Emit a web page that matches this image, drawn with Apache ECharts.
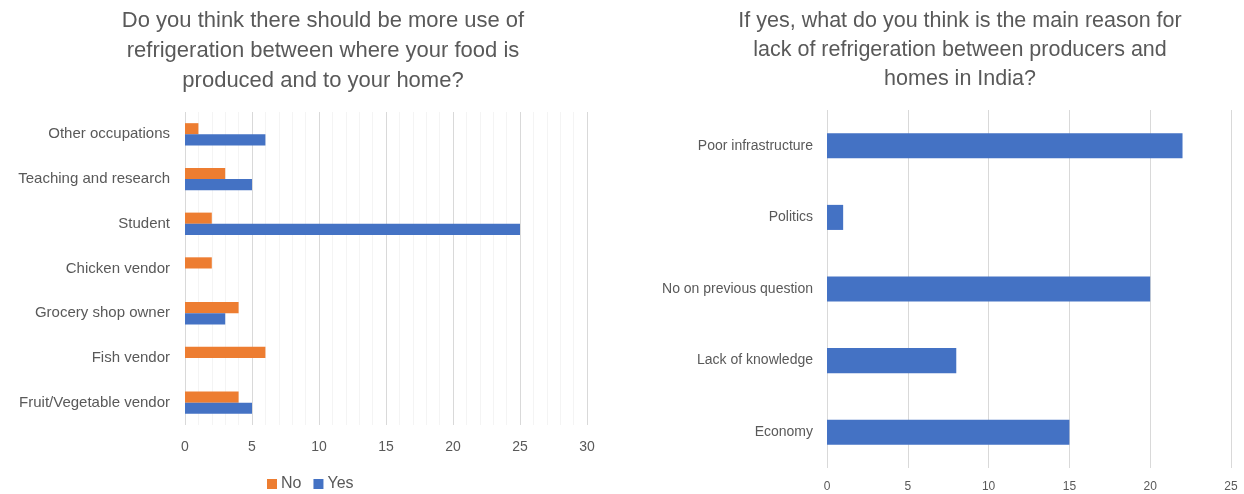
<!DOCTYPE html>
<html>
<head>
<meta charset="utf-8">
<script src="https://cdn.jsdelivr.net/npm/echarts@6/dist/echarts.min.js"></script>
<style>
  html, body { margin: 0; padding: 0; background: #fff; }
  #chart { width: 1244px; height: 494px; }
</style>
</head>
<body>
<div id="chart"></div>
<script>
// Survey answers by occupation (bottom to top)
const occupations = ['Fruit/Vegetable vendor', 'Fish vendor', 'Grocery shop owner', 'Chicken vendor', 'Student', 'Teaching and research', 'Other occupations'];
const noCounts = [4, 6, 4, 2, 2, 3, 1];
const yesCounts = [5, 0, 3, 0, 25, 5, 6];

// Reasons given for lack of refrigeration (bottom to top)
const reasons = ['Economy', 'Lack of knowledge', 'No on previous question', 'Politics', 'Poor infrastructure'];
const reasonCounts = [15, 8, 20, 1, 22];

const TEXT = '#595959';
const FONT = 'Liberation Sans';

const chart = echarts.init(document.getElementById('chart'), null, { renderer: 'canvas' });

chart.setOption({
  animation: false,
  textStyle: { fontFamily: FONT },
  title: [
    {
      text: 'Do you think there should be more use of\nrefrigeration between where your food is\nproduced and to your home?',
      left: 318, top: 1, textAlign: 'center',
      textStyle: { fontSize: 22, fontWeight: 'normal', color: TEXT, lineHeight: 30, fontFamily: FONT }
    },
    {
      text: 'If yes, what do you think is the main reason for\nlack of refrigeration between producers and\nhomes in India?',
      left: 955, top: 2, textAlign: 'center',
      textStyle: { fontSize: 21.5, fontWeight: 'normal', color: TEXT, lineHeight: 29, fontFamily: FONT }
    }
  ],
  legend: {
    data: ['No', 'Yes'],
    left: 262, bottom: -3,
    itemWidth: 10, itemHeight: 10, itemGap: 12,
    icon: 'rect',
    textStyle: { fontSize: 16, color: TEXT, fontFamily: FONT, padding: [0, 0, 0, -1] }
  },
  grid: [
    { left: 185, right: 657, top: 112, bottom: 69 },
    { left: 827, right: 13, top: 110, bottom: 26 }
  ],
  xAxis: [
    {
      gridIndex: 0, type: 'value', min: 0, max: 30, interval: 5,
      axisLine: { show: false }, axisTick: { show: false },
      axisLabel: { color: TEXT, fontSize: 14, margin: 15 },
      splitLine: { lineStyle: { color: '#D9D9D9', width: 1 } },
      minorTick: { show: false, splitNumber: 5 },
      minorSplitLine: { show: true, lineStyle: { color: '#F4F4F4', width: 1 } }
    },
    {
      gridIndex: 1, type: 'value', min: 0, max: 25, interval: 5,
      axisLine: { show: false }, axisTick: { show: false },
      axisLabel: { color: TEXT, fontSize: 12, margin: 13 },
      splitLine: { lineStyle: { color: '#D9D9D9', width: 1 } }
    }
  ],
  yAxis: [
    {
      gridIndex: 0, type: 'category', data: occupations,
      axisLine: { show: false }, axisTick: { show: false },
      axisLabel: { color: TEXT, fontSize: 15, margin: 15 }
    },
    {
      gridIndex: 1, type: 'category', data: reasons,
      axisLine: { show: false }, axisTick: { show: false },
      axisLabel: { color: TEXT, fontSize: 14, margin: 14 }
    }
  ],
  series: [
    {
      name: 'No', type: 'bar', xAxisIndex: 0, yAxisIndex: 0, data: noCounts,
      itemStyle: { color: '#ED7D31' }, barGap: '0%', barCategoryGap: '50%'
    },
    {
      name: 'Yes', type: 'bar', xAxisIndex: 0, yAxisIndex: 0, data: yesCounts,
      itemStyle: { color: '#4472C4' }, barGap: '0%', barCategoryGap: '50%'
    },
    {
      name: 'Reason', type: 'bar', xAxisIndex: 1, yAxisIndex: 1, data: reasonCounts,
      itemStyle: { color: '#4472C4' }, barCategoryGap: '65%'
    }
  ]
});
</script>
</body>
</html>
